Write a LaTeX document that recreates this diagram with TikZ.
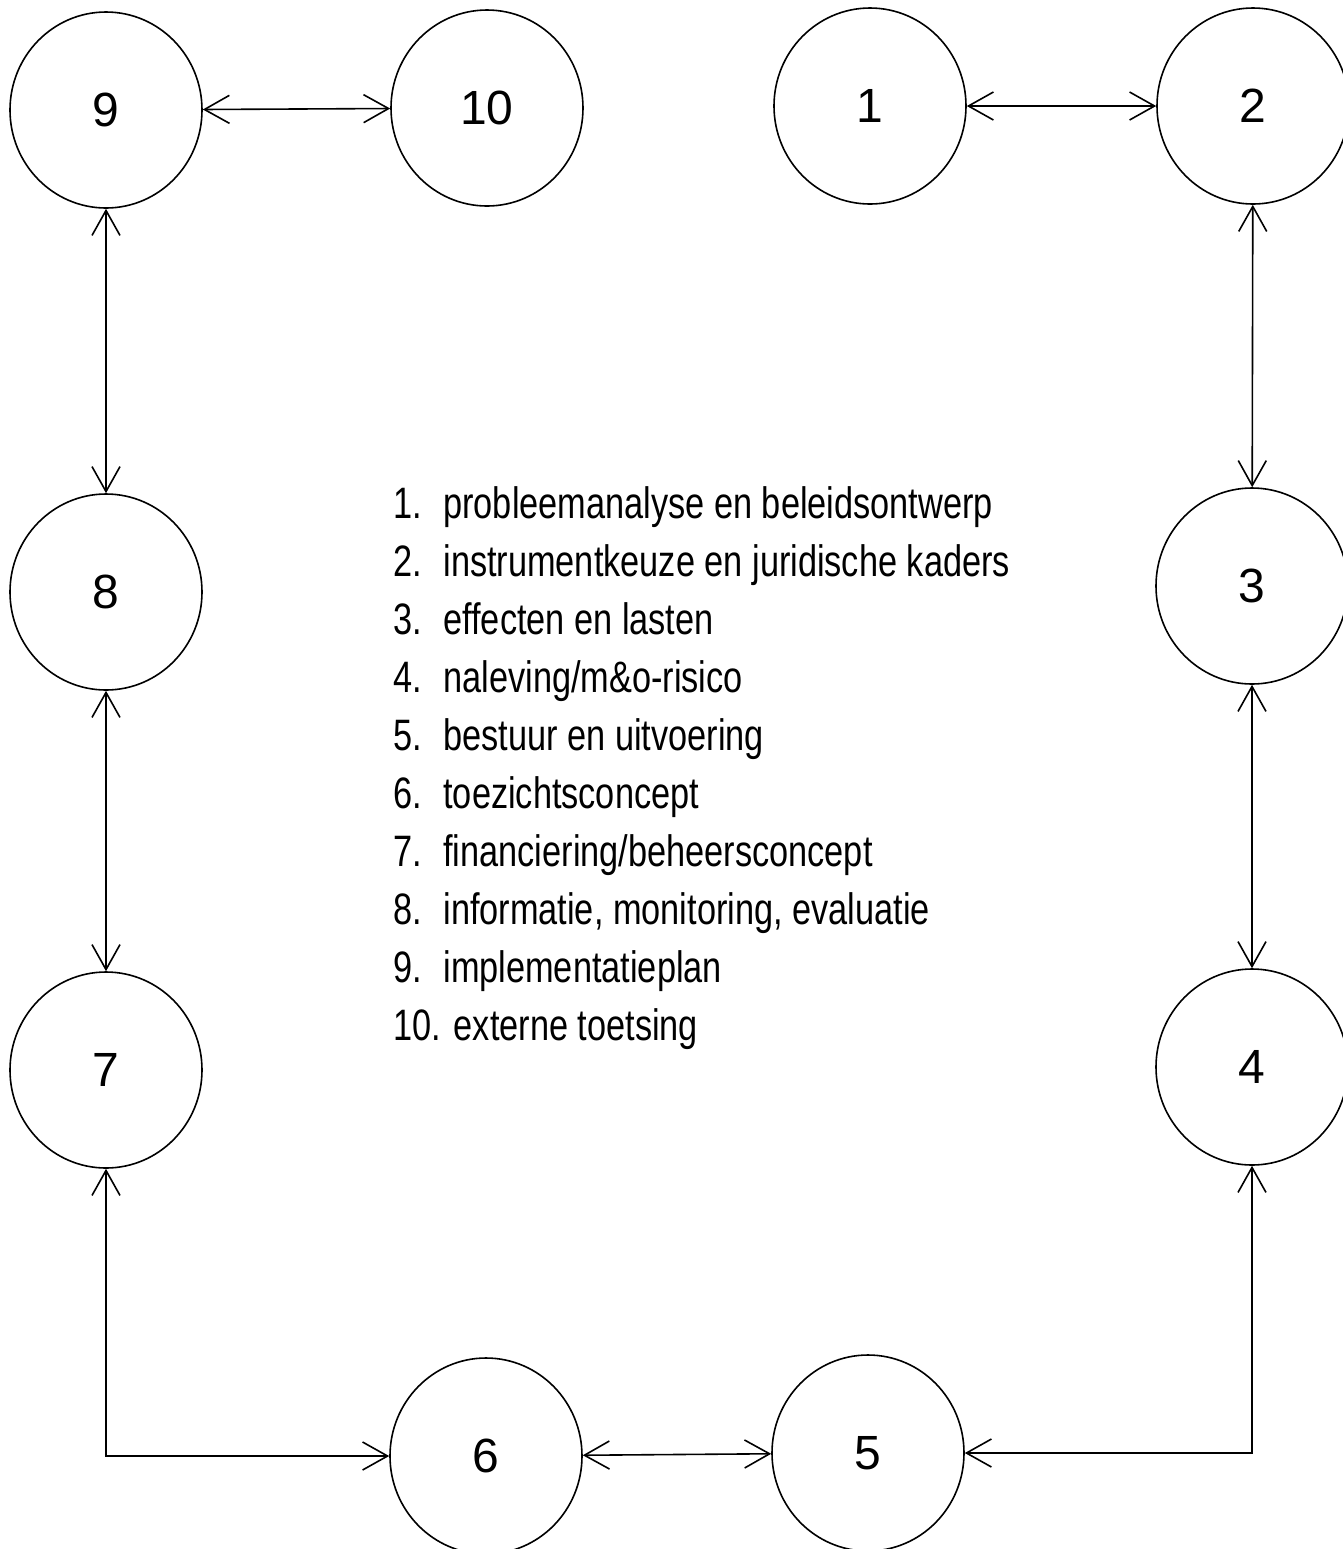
\documentclass[tikz,border=0pt]{standalone}
\usepackage{fontspec}
\setmainfont{Liberation Sans}
\newfontfamily\narrowsans[FakeStretch=0.78]{Liberation Sans}
\usetikzlibrary{arrows.meta,shapes.geometric}

\tikzset{
  phase/.style={draw, ellipse, line width=0.8pt, minimum width=96pt, minimum height=98pt,
    inner sep=0pt, font=\fontsize{24}{24}\selectfont},
  link/.style={line width=0.8pt, {Straight Barb[length=12.5pt,width=14pt]}-{Straight Barb[length=12.5pt,width=14pt]}},
  item/.style={anchor=base west, inner sep=0pt, font=\narrowsans\fontsize{22}{22}\selectfont}
}

\begin{document}
\begin{tikzpicture}[x=0.5pt,y=-0.5pt]
        \useasboundingbox (0,0) rectangle (1343,1549);
        \clip (0,0) rectangle (1343,1549);

        % the ten phases
        \node[phase] (n1) at (870,106) {1};
        \node[phase] (n2) at (1253,106) {2};
        \node[phase] (n3) at (1252,586) {3};
        \node[phase] (n4) at (1252,1067) {4};
        \node[phase] (n5) at (868,1453) {5};
        \node[phase] (n6) at (486,1456) {6};
        \node[phase] (n7) at (106,1070) {7};
        \node[phase] (n8) at (106,592) {8};
        \node[phase] (n9) at (106,110) {9};
        \node[phase] (n10) at (487,108) {10};

        % connections
        \draw[link] (n9) -- (n10);
        \draw[link] (n1) -- (n2);
        \draw[link] (n2) -- (n3);
        \draw[link] (n3) -- (n4);
        \draw[link] (n4.south) |- (n5.east);
        \draw[link] (n6) -- (n5);
        \draw[link] (n7.south) |- (n6.west);
        \draw[link] (n8) -- (n7);
        \draw[link] (n9) -- (n8);

        % legend
        \foreach \i/\txt in {1/probleemanalyse en beleidsontwerp,
                             2/instrumentkeuze en juridische kaders,
                             3/effecten en lasten,
                             4/{naleving/m\&o-risico},
                             5/bestuur en uitvoering,
                             6/toezichtsconcept,
                             7/{financiering/beheersconcept},
                             8/{informatie, monitoring, evaluatie},
                             9/implementatieplan} {
          \node[item] (num\i) at (393,{518+58*(\i-1)}) {\i.};
          \node[item] (txt\i) at (443,{518+58*(\i-1)}) {\txt};
        }
        \node[item] (num10) at (393,1040) {10. externe toetsing};
      \end{tikzpicture}
\end{document}
